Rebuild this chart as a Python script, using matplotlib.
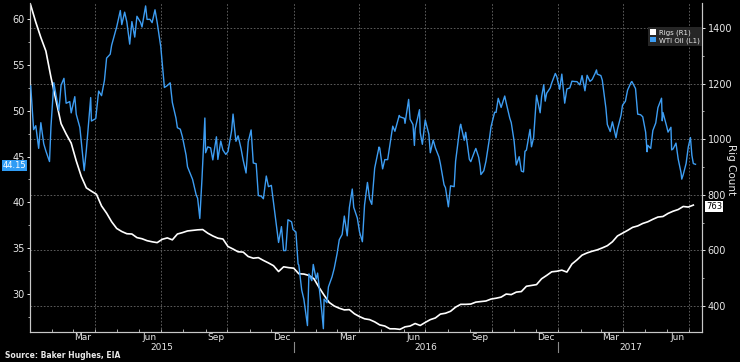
import pandas as pd
import matplotlib
matplotlib.use("Agg")
import matplotlib.pyplot as plt
import matplotlib.dates as mdates
from matplotlib.ticker import MultipleLocator
from matplotlib.transforms import blended_transform_factory
from matplotlib.patches import Patch

# WTI oil price (left axis)
wti_2015_dates = ["01-02", "01-06", "01-09", "01-13", "01-16", "01-20", "01-23", "01-28", "01-30",
                  "02-03", "02-06", "02-10", "02-13", "02-17", "02-20", "02-25", "02-27",
                  "03-04", "03-06", "03-11", "03-17", "03-20", "03-26", "03-27",
                  "04-02", "04-06", "04-10", "04-14", "04-17", "04-22", "04-24", "04-29",
                  "05-01", "05-06", "05-08", "05-12", "05-15", "05-19", "05-22", "05-26", "05-29",
                  "06-03", "06-05", "06-10", "06-12", "06-16", "06-19", "06-23", "06-26",
                  "07-01", "07-06", "07-10", "07-14", "07-17", "07-22", "07-24", "07-28", "07-31",
                  "08-05", "08-07", "08-11", "08-14", "08-19", "08-21", "08-24", "08-27", "08-31",
                  "09-01", "09-04", "09-08", "09-11", "09-16", "09-18", "09-22", "09-25", "09-29",
                  "10-02", "10-07", "10-09", "10-13", "10-16", "10-20", "10-23", "10-27", "10-30",
                  "11-03", "11-06", "11-10", "11-13", "11-17", "11-20", "11-24", "11-27",
                  "12-01", "12-04", "12-08", "12-11", "12-15", "12-18", "12-21", "12-24", "12-29", "12-31"]
wti_2015 = [52.69, 47.93, 48.36, 45.89, 48.69, 46.39, 45.59, 44.45, 48.24,
            53.05, 51.69, 50.02, 52.78, 53.53, 50.81, 50.99, 49.76,
            51.53, 49.61, 48.17, 43.46, 45.72, 51.43, 48.87,
            49.14, 52.14, 51.64, 53.29, 55.74, 56.16, 57.15, 58.58,
            59.15, 60.93, 59.39, 60.75, 59.69, 57.26, 59.72, 58.03, 60.30,
            59.64, 59.13, 61.43, 59.96, 59.97, 59.61, 61.01, 59.63,
            56.96, 52.53, 52.74, 53.04, 50.89, 49.19, 48.14, 47.98, 47.12,
            45.15, 43.87, 43.08, 42.50, 40.80, 40.45, 38.24, 42.56, 49.20,
            45.41, 46.05, 45.94, 44.63, 47.15, 44.68, 46.68, 45.70, 45.23,
            45.54, 47.81, 49.63, 46.66, 47.26, 45.89, 44.60, 43.20, 46.59,
            47.90, 44.29, 44.21, 40.74, 40.67, 40.39, 42.87, 41.71,
            41.85, 39.97, 37.51, 35.62, 37.35, 34.73, 34.74, 38.10, 37.87, 37.04]

wti_2016_dates = ["01-04", "01-07", "01-08", "01-12", "01-15", "01-20", "01-22", "01-26", "01-28",
                  "02-01", "02-03", "02-05", "02-09", "02-11", "02-12", "02-16", "02-18", "02-23", "02-26",
                  "03-01", "03-04", "03-08", "03-11", "03-15", "03-18", "03-22", "03-24", "03-29",
                  "04-01", "04-05", "04-08", "04-12", "04-15", "04-18", "04-22", "04-28", "04-29",
                  "05-03", "05-06", "05-10", "05-13", "05-17", "05-20", "05-26", "05-27",
                  "06-02", "06-03", "06-08", "06-10", "06-14", "06-16", "06-17", "06-23", "06-24", "06-27",
                  "07-01", "07-06", "07-08", "07-12", "07-15", "07-20", "07-22", "07-27", "07-29",
                  "08-02", "08-05", "08-10", "08-12", "08-18", "08-19", "08-24", "08-26", "08-31",
                  "09-02", "09-07", "09-09", "09-13", "09-15", "09-16", "09-20", "09-23", "09-28", "09-30",
                  "10-05", "10-07", "10-10", "10-14", "10-19", "10-21", "10-26", "10-28",
                  "11-01", "11-04", "11-08", "11-11", "11-14", "11-16", "11-18", "11-23", "11-25", "11-28", "11-30",
                  "12-02", "12-07", "12-09", "12-12", "12-14", "12-16", "12-21", "12-23", "12-28", "12-30"]
wti_2016 = [36.76, 33.27, 33.16, 30.44, 29.42, 26.55, 32.19, 31.45, 33.22,
            31.62, 32.28, 30.89, 27.94, 26.21, 29.44, 29.04, 30.77, 31.87, 32.78,
            34.40, 35.92, 36.50, 38.50, 36.34, 39.44, 41.45, 39.46, 38.28,
            36.79, 35.70, 39.72, 42.17, 40.36, 39.78, 43.73, 46.03, 45.92,
            43.65, 44.66, 44.66, 46.21, 48.31, 47.75, 49.48, 49.33,
            49.17, 48.62, 51.23, 49.07, 48.49, 46.21, 47.98, 50.11, 47.64, 46.33,
            48.99, 47.43, 45.41, 46.80, 45.95, 44.94, 44.19, 41.92, 41.60,
            39.51, 41.80, 41.71, 44.49, 48.22, 48.52, 46.77, 47.64, 44.70,
            44.44, 45.50, 45.88, 44.90, 43.91, 43.03, 43.44, 44.48, 47.05, 48.24,
            49.83, 49.81, 51.35, 50.35, 51.60, 50.85, 49.18, 48.70,
            46.67, 44.07, 44.98, 43.41, 43.32, 45.57, 45.69, 47.96, 46.06, 47.08, 49.44,
            51.68, 49.77, 51.50, 52.83, 51.04, 51.90, 52.49, 53.02, 54.06, 53.72]

wti_2017_dates = ["01-03", "01-06", "01-10", "01-13", "01-17", "01-20", "01-24", "01-27", "01-31",
                  "02-03", "02-07", "02-10", "02-14", "02-17", "02-21", "02-23", "02-24",
                  "03-01", "03-03", "03-08", "03-10", "03-14", "03-17", "03-22", "03-24", "03-29", "03-31",
                  "04-04", "04-07", "04-12", "04-13", "04-18", "04-21", "04-25", "04-28",
                  "05-02", "05-04", "05-05", "05-09", "05-12", "05-16", "05-19", "05-24", "05-25", "05-26", "05-31",
                  "06-02", "06-06", "06-07", "06-09", "06-13", "06-16", "06-20", "06-21", "06-23", "06-27", "06-30",
                  "07-03", "07-05", "07-07", "07-10"]
wti_2017 = [52.33, 53.99, 50.82, 52.37, 52.48, 53.22, 53.18, 53.17, 52.81,
            53.83, 52.17, 53.86, 53.20, 53.40, 54.06, 54.45, 53.99,
            53.83, 53.33, 50.28, 48.49, 47.72, 48.78, 47.04, 47.97, 49.51, 50.60,
            51.03, 52.24, 53.11, 53.18, 52.41, 49.62, 49.56, 49.33,
            47.66, 45.52, 46.22, 45.88, 47.84, 48.66, 50.33, 51.36, 48.90, 49.80, 48.32,
            47.66, 48.19, 45.72, 45.83, 46.46, 44.74, 43.23, 42.53, 43.01, 44.24, 46.04,
            47.07, 45.13, 44.23, 44.15]

# Oil rig count (right axis), weekly on Fridays
rig_2015 = [1482, 1421, 1366, 1317, 1223, 1140, 1056, 1019, 986, 922, 866, 825, 813,
            802, 760, 734, 703, 679, 668, 660, 659, 646, 642, 635, 631, 628,
            640, 645, 638, 659, 664, 670, 672, 674, 675, 662, 652, 644, 641,
            614, 605, 595, 594, 578, 572, 574, 564, 555, 545, 524, 541, 538]
rig_2016 = [536, 516, 515, 510, 498, 467, 439, 413, 400, 392, 386, 387, 372,
            362, 354, 351, 343, 332, 328, 318, 318, 316, 325, 328, 337, 330,
            341, 351, 357, 371, 374, 381, 396, 406, 406, 407, 414, 416, 418, 425,
            428, 432, 443, 441, 450, 452, 471, 474, 477, 498, 510, 523, 525]
rig_2017 = [529, 522, 551, 566, 583, 591, 597, 602, 609, 617, 631, 652, 662,
            672, 683, 688, 697, 703, 712, 720, 722, 733, 741, 747, 758, 756, 763]

year_labels = ["2015", "2016", "2017"]
year_label_dates = ["2015-07-03", "2016-07-02", "2017-04-11"]

BLUE = "#3d9df2"
GRID = "#6a6a6a"
TXT = "#e8e8e8"

wti_dates = ([pd.Timestamp("2015-" + d) for d in wti_2015_dates]
             + [pd.Timestamp("2016-" + d) for d in wti_2016_dates]
             + [pd.Timestamp("2017-" + d) for d in wti_2017_dates])
wti = wti_2015 + wti_2016 + wti_2017
rigs = rig_2015 + rig_2016 + rig_2017
rig_dates = pd.date_range("2015-01-02", periods=len(rigs), freq="W-FRI")

fig = plt.figure(figsize=(7.4, 3.62), dpi=100, facecolor="black")
ax2 = fig.add_axes([30 / 740, 30 / 362, 672 / 740, 329 / 362], facecolor="black")
ax = ax2.twinx()
ax.yaxis.tick_left()
ax2.yaxis.tick_right()
ax.patch.set_visible(False)

# Plot
ax2.plot(rig_dates, rigs, color="white", lw=1.2, zorder=3)
ax.plot(wti_dates, wti, color=BLUE, lw=1.0, zorder=3)

ax2.set_xlim(pd.Timestamp("2015-01-01"), pd.Timestamp("2017-07-19"))
ax.set_ylim(25.85, 61.75)
ax2.set_ylim(306.5, 1490)

# grid: horizontal on rig axis, vertical at quarter starts
ax2.set_yticks([400, 600, 800, 1000, 1200, 1400])
ax2.yaxis.set_minor_locator(MultipleLocator(100))
ax2.grid(axis="y", color=GRID, lw=0.6, linestyle=(0, (2, 2)))
for q in pd.date_range("2015-04-01", "2017-07-01", freq="QS"):
    ax2.axvline(q, color=GRID, lw=0.6, linestyle=(0, (2, 2)), zorder=1)

ax.set_yticks([30, 35, 40, 45, 50, 55, 60])
ax.yaxis.set_minor_locator(MultipleLocator(2.5))

ax2.xaxis.set_major_locator(mdates.MonthLocator(bymonth=[3, 6, 9, 12], bymonthday=15))
ax2.xaxis.set_major_formatter(mdates.DateFormatter("%b"))
ax2.xaxis.set_minor_locator(mdates.MonthLocator(bymonthday=1))

for a in (ax, ax2):
    for s in a.spines.values():
        s.set_color("#c8c8c8")
        s.set_linewidth(0.8)
    a.spines["top"].set_visible(False)
    a.tick_params(colors=TXT, labelsize=7, length=2.5, width=0.7, pad=1.5)
    a.tick_params(which="minor", length=1.5, width=0.6, colors="#c8c8c8")
ax2.tick_params(axis="x", which="major", length=0, pad=0.5, labelsize=6.5)
ax2.tick_params(axis="x", which="minor", direction="in", length=2)

# year labels and separators under the axis
trx = blended_transform_factory(ax2.transData, ax2.transAxes)
for lab, d in zip(year_labels, year_label_dates):
    ax2.text(pd.Timestamp(d), -0.056, lab, transform=trx, ha="center", va="baseline",
             fontsize=6.5, color=TXT)
for d in ["2016-01-01", "2017-01-01"]:
    ax2.plot([pd.Timestamp(d)] * 2, [-0.03, -0.061], transform=trx, color="#8a8a8a",
             lw=0.8, clip_on=False)

# last value tags
trl = blended_transform_factory(ax.transAxes, ax.transData)
ax.text(-0.005, wti[-1] - 0.15, "%.2f" % wti[-1], transform=trl, ha="right", va="center",
        fontsize=6, color="white",
        bbox=dict(boxstyle="square,pad=0.1", fc="#2f9cf5", ec="none"))
trr = blended_transform_factory(ax2.transAxes, ax2.transData)
ax2.text(1.006, rigs[-1] - 5, "%d" % rigs[-1], transform=trr, ha="left", va="center",
         fontsize=6, color="black",
         bbox=dict(boxstyle="square,pad=0.12", fc="white", ec="none"))

fig.text(731 / 740, 1 - 170 / 362, "Rig Count", rotation=270, ha="center", va="center",
         color=TXT, fontsize=7.5)
fig.text(5 / 740, 1 - 355 / 362, "Source: Baker Hughes, EIA", fontsize=5.5,
         fontweight="bold", color=TXT, va="center")

handles = [Patch(fc="white", ec="none"), Patch(fc=BLUE, ec="none")]
leg = fig.legend(handles, ["Rigs (R1)", "WTI Oil (L1)"], loc="upper left",
                 bbox_to_anchor=(648 / 740, 1 - 27 / 362), bbox_transform=fig.transFigure,
                 fontsize=5, frameon=True, facecolor="#262626", edgecolor="none",
                 framealpha=1, fancybox=False, borderpad=0.35, handlelength=0.8,
                 handleheight=0.8, handletextpad=0.4, labelspacing=0.15, borderaxespad=0)
for t in leg.get_texts():
    t.set_color(TXT)

fig.savefig("out.png", dpi=100, facecolor="black")
